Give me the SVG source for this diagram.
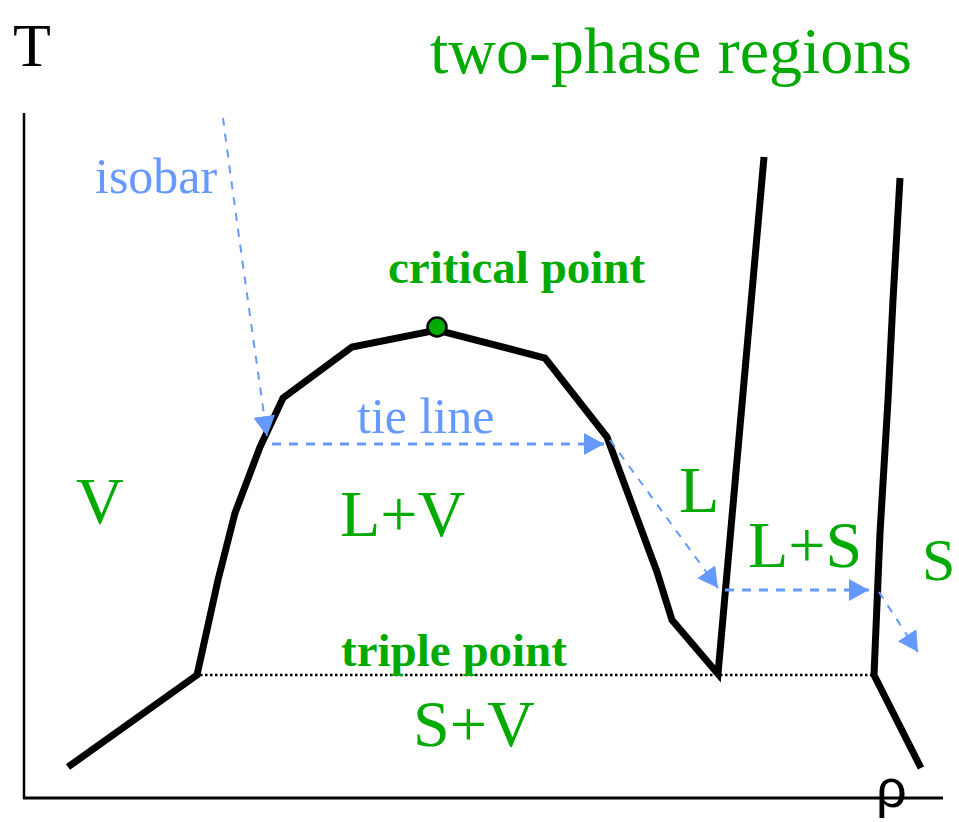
<svg xmlns="http://www.w3.org/2000/svg" width="959" height="822" viewBox="0 0 959 822">
<style>
.serif{font-family:"Liberation Serif","Times New Roman",serif}
.big{font-size:66px}
.green{fill:#00AA00}
.blue{fill:#6699FF}
.bold{font-weight:bold;font-size:47px}
.curve{fill:none;stroke:#000;stroke-width:7;stroke-linejoin:miter}
.iso{fill:none;stroke:#6699FF;stroke-width:2;stroke-dasharray:8 8}
.tie{fill:none;stroke:#6699FF;stroke-width:3;stroke-dasharray:9 8}
</style>
<defs>
<marker id="arr" markerUnits="userSpaceOnUse" markerWidth="24" markerHeight="24" refX="20" refY="11" orient="auto" viewBox="0 0 24 24">
<path d="M0,0 L20,11 L0,22 z" fill="#6699FF"/>
</marker>
</defs>
<rect width="959" height="822" fill="#fff"/>
<g id="axes">
<line x1="24" y1="113" x2="24" y2="799" stroke="#000" stroke-width="2.5"/>
<line x1="23" y1="798" x2="943" y2="798" stroke="#000" stroke-width="3"/>
<text class="serif" font-size="62" x="13" y="66" fill="#000">T</text>
<text x="876" y="807" font-family="'Liberation Sans','DejaVu Sans',sans-serif" font-size="54" fill="#000">ρ</text>
</g>
<g id="title"><text class="serif big green" x="430" y="73">two-phase regions</text></g>
<g id="phase-boundaries">
<polyline class="curve" points="68,767 197,675 218,580 235,513 260,447 283,398 352,347 437,330 545,358 607,437 657,572 672,620 718,674 764,157"/>
<polyline class="curve" points="921,768 874,675 880,533 888,400 893,300 900,178"/>
<line x1="200" y1="675" x2="874" y2="675" stroke="#000" stroke-width="2.5" stroke-dasharray="2.5 2.5"/>
</g>
<g id="critical-point">
<circle cx="437" cy="327" r="9.5" fill="#00AA00" stroke="#000" stroke-width="2.5"/>
<text class="serif bold green" x="388" y="283">critical point</text>
</g>
<g id="triple-point"><text class="serif bold green" x="341" y="666">triple point</text></g>
<g id="connectors">
<path class="iso" d="M223,118 C235,210 252,330 267,436" marker-end="url(#arr)"/>
<path class="tie" d="M272,444 L604,444" marker-end="url(#arr)"/>
<path class="iso" d="M610,440 L718,588" marker-end="url(#arr)"/>
<path class="tie" d="M725,590 L869,590" marker-end="url(#arr)"/>
<path class="iso" d="M879,592 L918,652" marker-end="url(#arr)"/>
</g>
<g id="labels">
<text class="serif blue" font-size="50" x="95" y="193">isobar</text>
<text class="serif blue" font-size="50" x="357" y="433">tie line</text>
<text class="serif big green" x="76" y="523">V</text>
<text class="serif big green" x="340" y="536">L+V</text>
<text class="serif big green" x="679" y="512">L</text>
<text class="serif big green" x="748" y="567">L+S</text>
<text class="serif green" font-size="60" x="922" y="580">S</text>
<text class="serif big green" x="413" y="746">S+V</text>
</g>
</svg>
